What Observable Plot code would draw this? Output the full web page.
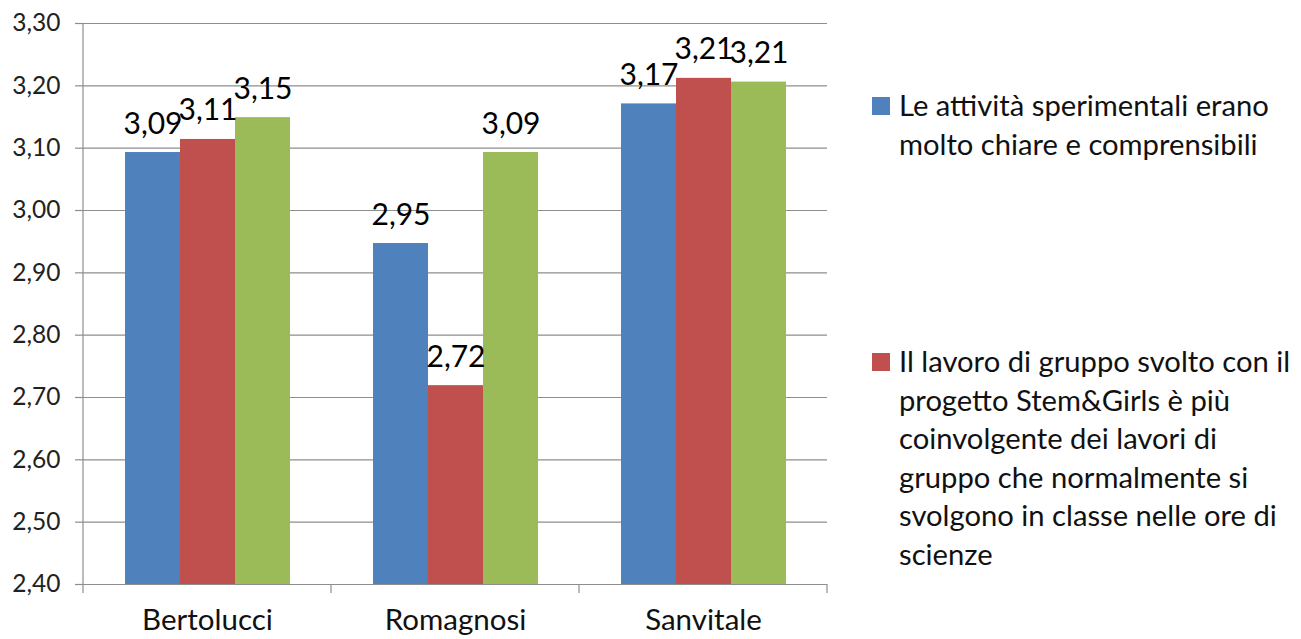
<!DOCTYPE html>
<html>
<head>
<meta charset="utf-8">
<script src="https://cdn.jsdelivr.net/npm/d3@7"></script>
<script src="https://cdn.jsdelivr.net/npm/@observablehq/plot@0.6"></script>
<style>
  html, body { margin: 0; padding: 0; background: #fff; }
  #wrap { position: relative; width: 1301px; height: 639px; overflow: hidden; font-family: Lato, "Open Sans", sans-serif; }
  #legend { position: absolute; left: 872px; top: 0; color: #111; font-size: 29.2px; line-height: 38.5px; }
  .item { position: absolute; left: 0; white-space: nowrap; }
  .sw { position: absolute; left: 0; width: 18px; height: 18px; }
  .txt { position: absolute; left: 27px; }
</style>
</head>
<body>
<div id="wrap"><div id="legend"></div></div>
<script>
const schools = ["Bertolucci", "Romagnosi", "Sanvitale"];
const seriesKeys = ["s1", "s2", "s3"];
const seriesLegendLines = [
  ["Le attività sperimentali erano", "molto chiare e comprensibili"],
  ["Il lavoro di gruppo svolto con il", "progetto Stem&Girls è più", "coinvolgente dei lavori di", "gruppo che normalmente si", "svolgono in classe nelle ore di", "scienze"]
];
const values1 = [3.093, 2.947, 3.171];
const values2 = [3.114, 2.719, 3.212];
const values3 = [3.149, 3.093, 3.206];
const yTicks = [2.4, 2.5, 2.6, 2.7, 2.8, 2.9, 3.0, 3.1, 3.2, 3.3];
const colors = ["#4F81BD", "#C0504D", "#9BBB59"];

const allValues = [values1, values2, values3];
const data = [];
schools.forEach((s, i) => seriesKeys.forEach((k, j) => data.push({school: s, series: k, value: allValues[j][i]})));
const fmt = v => v.toFixed(2).replace(".", ",");
const gray = "#8e8e8e";

const plot = Plot.plot({
  width: 1301, height: 639,
  marginTop: 23, marginBottom: 55, marginLeft: 82, marginRight: 473,
  style: {fontFamily: "Lato, 'Open Sans', sans-serif", background: "transparent", overflow: "visible"},
  fx: {domain: schools, padding: 0, label: null},
  x: {domain: seriesKeys, paddingInner: 0, paddingOuter: 0.75, axis: null},
  y: {domain: [yTicks[0], yTicks[yTicks.length - 1]], label: null},
  color: {domain: seriesKeys, range: colors},
  marks: [
    Plot.gridY(yTicks, {stroke: gray, strokeOpacity: 1, strokeWidth: 1.2}),
    Plot.barY(data, {fx: "school", x: "series", y1: yTicks[0], y2: "value", fill: "series"}),
    Plot.ruleY([yTicks[0]], {stroke: gray, strokeWidth: 1.2}),
    Plot.axisY(yTicks, {tickSize: 8, tickPadding: 15, tickFormat: fmt, fontSize: 24.5, stroke: gray, strokeWidth: 1.2, fill: "#222", label: null}),
    Plot.axisFx({anchor: "bottom", tickSize: 0, tickPadding: 25, fontSize: 29.5, fill: "#111", label: null}),
    Plot.text(data, {fx: "school", x: "series", y: "value", text: d => fmt(d.value), lineAnchor: "bottom", dy: -19, fontSize: 30, fill: "#000"})
  ]
});

document.getElementById("wrap").appendChild(plot);
plot.style.position = "absolute"; plot.style.left = "0"; plot.style.top = "0";

// axis line and group boundary ticks from the library's scales
const fxS = plot.scale("fx"), yS = plot.scale("y");
const svg = d3.select(plot);
const bounds = schools.map(s => fxS.apply(s)).concat([fxS.apply(schools[schools.length - 1]) + fxS.bandwidth]);
const y0 = yS.apply(yTicks[0]), yTop = yS.apply(yTicks[yTicks.length - 1]);
const g = svg.append("g").attr("stroke", gray).attr("stroke-width", 1.2);
g.append("line").attr("x1", bounds[0]).attr("x2", bounds[0]).attr("y1", yTop).attr("y2", y0 + 9);
bounds.slice(1).forEach(b => g.append("line").attr("x1", b).attr("x2", b).attr("y1", y0).attr("y2", y0 + 9));

// legend
const legendTops = [86, 342];
const leg = d3.select("#legend");
seriesLegendLines.forEach((lines, i) => {
  const item = leg.append("div").attr("class", "item").style("top", legendTops[i] + "px");
  item.append("div").attr("class", "sw").style("background", colors[i]).style("top", "11px");
  item.append("div").attr("class", "txt").html(lines.map(l => l.replace(/&/g, "&amp;")).join("<br>"));
});
</script>
</body>
</html>
